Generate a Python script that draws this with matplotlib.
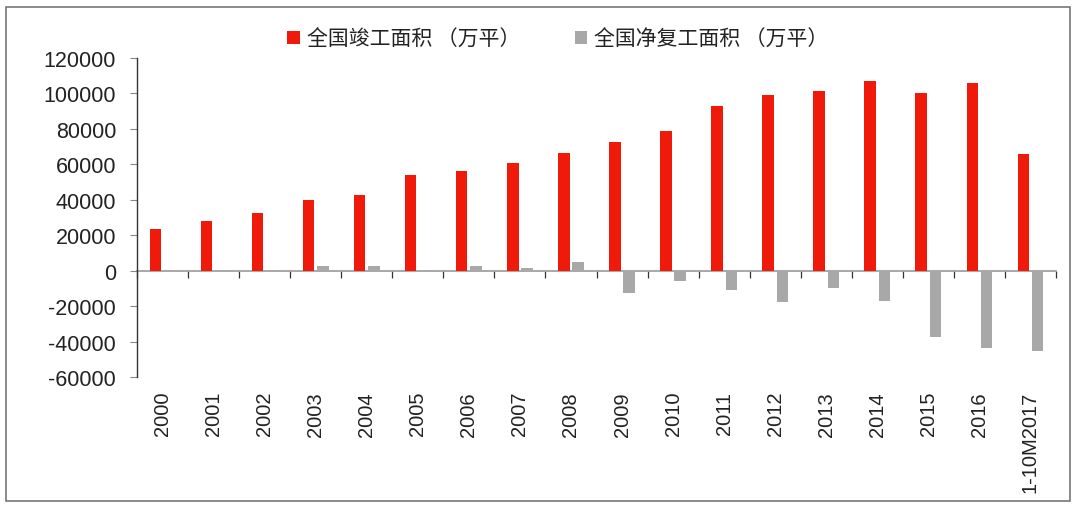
import matplotlib
matplotlib.use("Agg")
import matplotlib.pyplot as plt
import numpy as np
from matplotlib.patches import Rectangle

plt.rcParams['font.family'] = ['Liberation Sans', 'Noto Sans CJK SC', 'DejaVu Sans']

categories = ['2000', '2001', '2002', '2003', '2004', '2005', '2006', '2007', '2008',
              '2009', '2010', '2011', '2012', '2013', '2014', '2015', '2016', '1-10M2017']
completed = [23500, 27800, 32700, 40000, 42800, 53700, 56200, 60700, 66500,
             72700, 78700, 92800, 99200, 101200, 107200, 100100, 106100, 65700]
net_resumed = [100, 500, 500, 2400, 2800, 200, 2800, 1500, 4900,
               -12600, -5800, -10900, -17600, -9600, -17300, -37700, -43400, -45200]
legend_labels = ['全国竣工面积 （万平）', '全国净复工面积 （万平）']
yticks = [-60000, -40000, -20000, 0, 20000, 40000, 60000, 80000, 100000, 120000]

RED = '#F01A0A'
GRAY = '#A8A8A8'

fig = plt.figure(figsize=(10.8, 5.1), dpi=100)
ax = fig.add_axes([137/1080, 1-378/510, (1056-137)/1080, (378-59)/510])

x = np.arange(len(categories))
w = 0.225
off = 0.14
ax.bar(x - off, completed, width=w, color=RED, label=legend_labels[0], zorder=2)
ax.bar(x + off, net_resumed, width=w, color=GRAY, label=legend_labels[1], zorder=2)

ax.set_xlim(-0.5, len(categories) - 0.5)
ax.set_ylim(-60000, 120000)
ax.set_yticks(yticks)
ax.set_yticklabels([str(v) for v in yticks])
ax.tick_params(axis='y', direction='out', length=5, width=0.8, color='#888888',
               labelsize=15.5, labelcolor='#222222', pad=10)

ax.set_xticks(x)
ax.set_xticklabels(categories, rotation=90, fontsize=14.5, color='#222222')
ax.tick_params(axis='x', length=0, pad=10)

for s in ['top', 'right', 'bottom']:
    ax.spines[s].set_visible(False)
ax.spines['left'].set_color('#333333')
ax.spines['left'].set_linewidth(1.0)

# zero axis with boundary ticks
sec = ax.secondary_xaxis(60000/180000)
sec.set_xticks(np.arange(len(categories) + 1) - 0.5)
sec.set_xticklabels([])
sec.tick_params(direction='out', length=5, width=0.9, color='#333333')
sec.spines['bottom'].set_color('#999999')
sec.spines['bottom'].set_linewidth(1.2)

leg = fig.legend(loc='center', bbox_to_anchor=(558/1080, 1-40/510), ncol=2, frameon=False,
                 handlelength=0.6, handleheight=0.6, handletextpad=0.35, columnspacing=2.6,
                 prop={'family': ['Noto Sans CJK SC'], 'size': 15})
for t in leg.get_texts():
    t.set_color('#222222')

# outer frame
fig.patches.append(Rectangle((6/1080, 1-502/510), (1070-6)/1080, (502-8)/510,
                             transform=fig.transFigure, fill=False,
                             edgecolor='#777777', linewidth=1.2))

fig.savefig('out.png', dpi=100, facecolor='white')
